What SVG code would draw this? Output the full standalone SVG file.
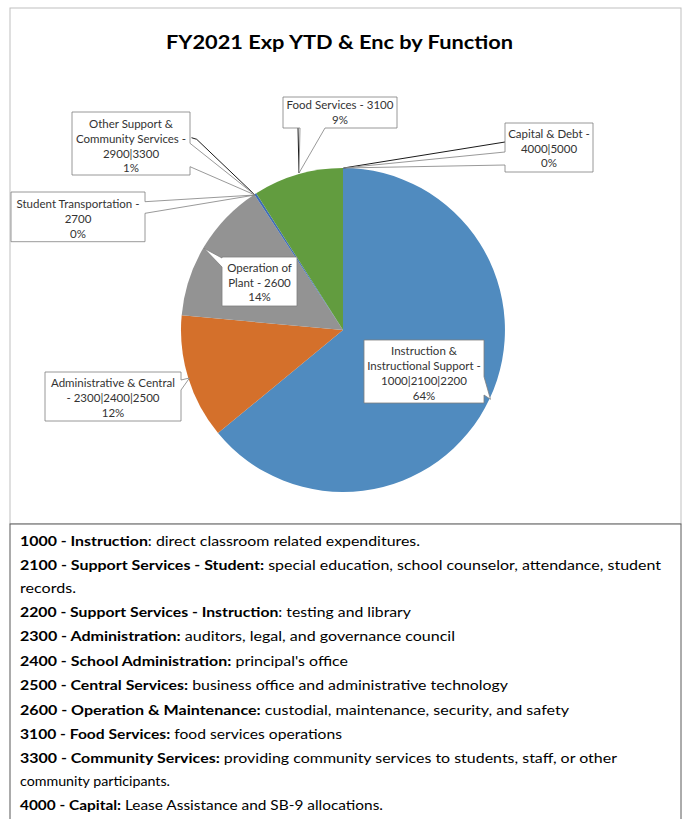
<svg xmlns="http://www.w3.org/2000/svg" width="685" height="819" viewBox="0 0 685 819">
<style>
.frame{fill:#fff;stroke:#BFBFBF;stroke-width:1}
.tbox{fill:#fff;stroke:#595959;stroke-width:1}
.title{font-family:Lato,"Liberation Sans",sans-serif;font-weight:700;font-size:19px;fill:#000}
.lbl{font-family:Lato,"Liberation Sans",sans-serif;font-size:11.5px;fill:#333;text-anchor:middle}
.call{fill:#fff;stroke:#7F7F7F;stroke-width:0.8}
.lead{fill:none;stroke:#000;stroke-width:0.9}
.body{font-family:Lato,"Liberation Sans",sans-serif;font-size:14px;fill:#000}
.b{font-weight:700}
</style>
<rect class="frame" x="10" y="8" width="671" height="516"/>
<text class="title" x="339.5" y="49" text-anchor="middle" textLength="347" lengthAdjust="spacingAndGlyphs">FY2021 Exp YTD &amp; Enc by Function</text>
<g id="pie">
<path id="s-instruction" d="M343,330 L343,168 A162,162 0 1 1 218.0,433.1 Z" fill="#508BBF"/>
<path id="s-admin" d="M343,330 L218.0,433.1 A162,162 0 0 1 181.67,315.32 Z" fill="#D4702B"/>
<path id="s-operation" d="M343,330 L181.67,315.32 A162,162 0 0 1 254.29,194.44 Z" fill="#939393"/>
<path id="s-other" d="M343,330 L254.29,194.44 A162,162 0 0 1 256.2,193.22 Z" fill="#3F6CB7"/>
<path id="s-food" d="M343,330 L256.2,193.22 A162,162 0 0 1 343,168 Z" fill="#629C3F"/>
</g>
<g id="connectors">
<path class="lead" d="M191.5,137.7 L196.7,139.3 L255,195"/>
<path class="lead" d="M298,128 L299,173"/>
<path class="lead" d="M505,142 L343.5,168"/>
</g>
<g id="lbl-food">
<path class="call" d="M283,97 H397 V128 H325 L299,173 L300,128 H283 Z"/>
<text class="lbl" x="340" y="109">Food Services - 3100</text>
<text class="lbl" x="340" y="124">9%</text>
</g>
<g id="lbl-capital">
<path class="call" d="M505,123 H593 V172 H505 V165 L343.5,168 L505,152 Z"/>
<text class="lbl" x="549" y="137.5">Capital &amp; Debt -</text>
<text class="lbl" x="549" y="152.5">4000|5000</text>
<text class="lbl" x="549" y="167">0%</text>
</g>
<g id="lbl-other">
<path class="call" d="M72,112 H190 V143.3 L255,195 L190,166.7 V175 H72 Z"/>
<text class="lbl" x="131" y="127.5">Other Support &amp;</text>
<text class="lbl" x="131" y="142.5">Community Services  -</text>
<text class="lbl" x="131" y="157.5">2900|3300</text>
<text class="lbl" x="131" y="172">1%</text>
</g>
<g id="lbl-transport">
<path class="call" d="M11,192 H145 V201.7 L255,195 L145,213.3 V241.7 H11 Z"/>
<text class="lbl" x="78" y="207.5">Student Transportation -</text>
<text class="lbl" x="78" y="222.5">2700</text>
<text class="lbl" x="78" y="237.5">0%</text>
</g>
<g id="lbl-operation">
<path class="call" d="M222,257 H297 V306 H222 V267 L204,248.3 L222,258 Z"/>
<text class="lbl" x="259.5" y="271.5">Operation of</text>
<text class="lbl" x="259.5" y="286.5">Plant - 2600</text>
<text class="lbl" x="259.5" y="301">14%</text>
</g>
<g id="lbl-admin">
<path class="call" d="M45,372 H181 V380 L189.5,378 L181,390 V421 H45 Z"/>
<text class="lbl" x="113" y="386.5">Administrative &amp; Central</text>
<text class="lbl" x="113" y="401.5">- 2300|2400|2500</text>
<text class="lbl" x="113" y="416.5">12%</text>
</g>
<g id="lbl-instruction">
<path class="call" d="M364,340 H484 V376.7 L490.5,399.3 L484,395 V403 H364 Z"/>
<text class="lbl" x="424" y="355">Instruction &amp;</text>
<text class="lbl" x="424" y="370">Instructional Support -</text>
<text class="lbl" x="424" y="385">1000|2100|2200</text>
<text class="lbl" x="424" y="399.5">64%</text>
</g>
<rect class="tbox" x="10" y="524" width="671" height="300"/>
<g id="legend-text" class="body">
<text x="20" y="546" textLength="400" lengthAdjust="spacingAndGlyphs"><tspan class="b">1000 - Instruction</tspan>: direct classroom related expenditures.</text>
<text x="20" y="570.4" textLength="641" lengthAdjust="spacingAndGlyphs"><tspan class="b">2100 - Support Services - Student:</tspan> special education, school counselor, attendance, student</text>
<text x="20" y="592.6" textLength="56" lengthAdjust="spacingAndGlyphs">records.</text>
<text x="20" y="617" textLength="391" lengthAdjust="spacingAndGlyphs"><tspan class="b">2200 - Support Services - Instruction</tspan>: testing and library</text>
<text x="20" y="641.4" textLength="435" lengthAdjust="spacingAndGlyphs"><tspan class="b">2300 - Administration:</tspan> auditors, legal, and governance council</text>
<text x="20" y="665.8" textLength="328" lengthAdjust="spacingAndGlyphs"><tspan class="b">2400 - School Administration:</tspan> principal's office</text>
<text x="20" y="690.2" textLength="488" lengthAdjust="spacingAndGlyphs"><tspan class="b">2500 - Central Services:</tspan> business office and administrative technology</text>
<text x="20" y="714.6" textLength="549" lengthAdjust="spacingAndGlyphs"><tspan class="b">2600 - Operation &amp; Maintenance:</tspan> custodial, maintenance, security, and safety</text>
<text x="20" y="739" textLength="322" lengthAdjust="spacingAndGlyphs"><tspan class="b">3100 - Food Services:</tspan> food services operations</text>
<text x="20" y="763.4" textLength="597" lengthAdjust="spacingAndGlyphs"><tspan class="b">3300 - Community Services:</tspan> providing community services to students, staff, or other</text>
<text x="20" y="785.6" textLength="150" lengthAdjust="spacingAndGlyphs">community participants.</text>
<text x="20" y="810" textLength="363" lengthAdjust="spacingAndGlyphs"><tspan class="b">4000 - Capital:</tspan> Lease Assistance and SB-9 allocations.</text>
</g>
</svg>
